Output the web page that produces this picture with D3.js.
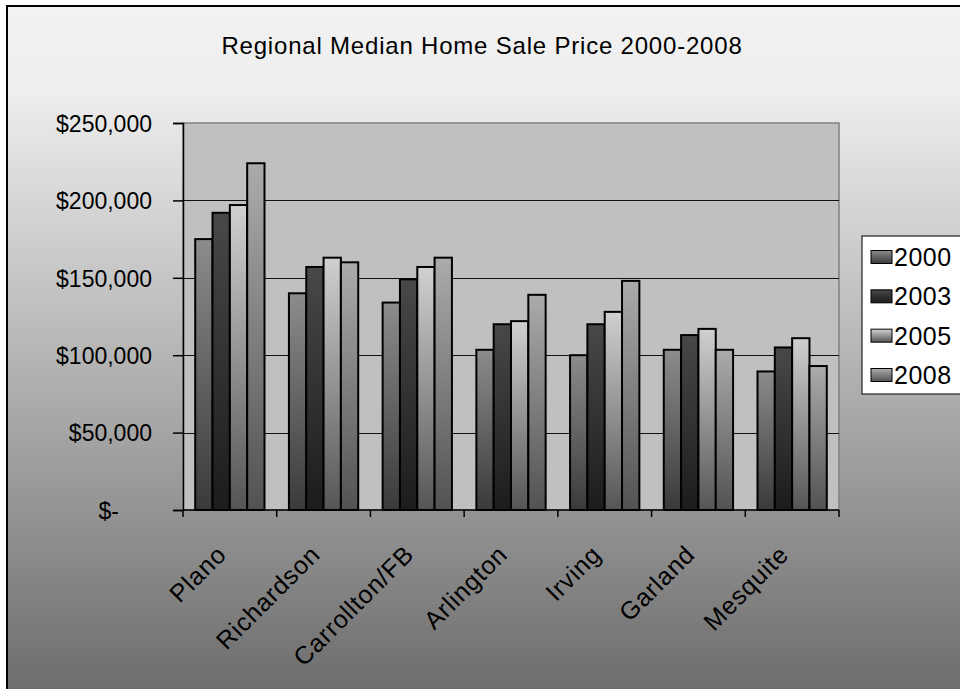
<!DOCTYPE html>
<html>
<head>
<meta charset="utf-8">
<script src="https://cdn.jsdelivr.net/npm/d3@7/dist/d3.min.js"></script>
<style>
  html, body { margin: 0; padding: 0; background: #ffffff; }
  svg { display: block; }
  text { font-family: "Liberation Sans", Arial, sans-serif; fill: #000; }
</style>
</head>
<body>
<svg id="chart" width="960" height="689"></svg>
<script>
// ---- data ----
const title = "Regional Median Home Sale Price 2000-2008";
const categories = ["Plano", "Richardson", "Carrollton/FB", "Arlington", "Irving", "Garland", "Mesquite"];
const seriesNames = ["2000", "2003", "2005", "2008"];
const values2000 = [175000, 140000, 134000, 103500, 100000, 103500, 89500];
const values2003 = [192000, 157000, 149000, 120000, 120000, 113000, 105000];
const values2005 = [197000, 163000, 157000, 122000, 128000, 117000, 111000];
const values2008 = [224000, 160000, 163000, 139000, 148000, 103500, 93000];
const seriesValues = [values2000, values2003, values2005, values2008];
const yTicks = [0, 50000, 100000, 150000, 200000, 250000];
const yTickLabels = ["$-", "$50,000", "$100,000", "$150,000", "$200,000", "$250,000"];

// ---- layout ----
const W = 960, H = 689;
const plot = { left: 183, top: 123, right: 839, bottom: 510 };
const seriesGrad = [
  { top: "#8c8c8c", bottom: "#3a3a3a" },
  { top: "#484848", bottom: "#1c1c1c" },
  { top: "#d0d0d0", bottom: "#555555" },
  { top: "#ababab", bottom: "#525252" }
];

const svg = d3.select("#chart");
const defs = svg.append("defs");

const bg = defs.append("linearGradient").attr("id", "bgGrad")
  .attr("x1", 0).attr("y1", 0).attr("x2", 0).attr("y2", 1);
bg.append("stop").attr("offset", "0").attr("stop-color", "#f2f2f2");
bg.append("stop").attr("offset", "0.12").attr("stop-color", "#eeeeee");
bg.append("stop").attr("offset", "1").attr("stop-color", "#6a6a6a");

seriesGrad.forEach((g, i) => {
  const lg = defs.append("linearGradient").attr("id", "sg" + i)
    .attr("x1", 0).attr("y1", 0).attr("x2", 0).attr("y2", 1);
  lg.append("stop").attr("offset", "0").attr("stop-color", g.top);
  lg.append("stop").attr("offset", "1").attr("stop-color", g.bottom);
});

// chart area background
svg.append("rect").attr("x", 7).attr("y", 6).attr("width", W + 10).attr("height", H + 10)
  .attr("fill", "url(#bgGrad)").attr("stroke", "#000").attr("stroke-width", 2);

// title
svg.append("text").attr("x", 482).attr("y", 54).attr("text-anchor", "middle")
  .style("font-size", "24px").style("letter-spacing", "0.8px").text(title);

// scales
const y = d3.scaleLinear().domain([0, 250000]).range([plot.bottom, plot.top]);
const x0 = d3.scaleBand().domain(categories).range([plot.left, plot.right]).paddingInner(0).paddingOuter(0);
const step = x0.bandwidth();
const gapRatio = 1.41;
const barW = step / (seriesNames.length + gapRatio);
const x1 = d3.scaleBand().domain(seriesNames)
  .range([barW * gapRatio / 2, barW * gapRatio / 2 + barW * seriesNames.length]);

// plot area
svg.append("rect").attr("x", plot.left).attr("y", plot.top)
  .attr("width", plot.right - plot.left).attr("height", plot.bottom - plot.top)
  .attr("fill", "#c0c0c0").attr("stroke", "#808080").attr("stroke-width", 1.5);

// gridlines
svg.append("g").selectAll("line").data(yTicks.filter(t => t > 0 && t < 250000)).join("line")
  .attr("x1", plot.left).attr("x2", plot.right)
  .attr("y1", d => Math.round(y(d)) + 0.5).attr("y2", d => Math.round(y(d)) + 0.5)
  .attr("stroke", "#111").attr("stroke-width", 1);

// bars
const groups = svg.append("g").selectAll("g").data(categories).join("g")
  .attr("transform", d => `translate(${x0(d)},0)`);
groups.selectAll("rect").data((d, ci) => seriesNames.map((s, si) => ({ s, si, v: seriesValues[si][ci] })))
  .join("rect")
  .attr("x", d => x1(d.s)).attr("width", x1.bandwidth())
  .attr("y", d => y(d.v)).attr("height", d => y(0) - y(d.v))
  .attr("fill", d => `url(#sg${d.si})`).attr("stroke", "#000").attr("stroke-width", 2);

// y axis
const yAxis = d3.axisLeft(y).tickValues(yTicks).tickSize(10).tickFormat((d, i) => yTickLabels[i]);
const gy = svg.append("g").attr("transform", `translate(${plot.left},0)`).call(yAxis);
gy.select(".domain").attr("stroke", "#000").attr("stroke-width", 1.5);
gy.selectAll(".tick line").attr("stroke", "#000").attr("stroke-width", 1.5);
gy.selectAll(".tick text").attr("x", -31).attr("dy", "0.36em")
  .style("font-size", "23px").style("font-family", "Liberation Sans, Arial, sans-serif").attr("fill", "#000");
gy.selectAll(".tick text").filter(d => d === 0).attr("x", -64);

// x axis
const gx = svg.append("g").attr("transform", `translate(0,${plot.bottom})`);
gx.append("line").attr("x1", plot.left).attr("x2", plot.right).attr("y1", 0).attr("y2", 0)
  .attr("stroke", "#000").attr("stroke-width", 1.5);
const boundaries = categories.map(c => x0(c)).concat([plot.right]);
gx.selectAll("line.tk").data(boundaries).join("line").attr("class", "tk")
  .attr("x1", d => d).attr("x2", d => d).attr("y1", 0).attr("y2", 7)
  .attr("stroke", "#000").attr("stroke-width", 1.5);
gx.selectAll("text").data(categories).join("text")
  .attr("transform", d => `translate(${x0(d) + step / 2 - 2},46) rotate(-45)`)
  .attr("text-anchor", "end")
  .style("font-size", "25px").style("letter-spacing", "0.8px").text(d => d);

// legend
const lg = svg.append("g");
lg.append("rect").attr("x", 862).attr("y", 236).attr("width", 120).attr("height", 158)
  .attr("fill", "#fff").attr("stroke", "#222").attr("stroke-width", 1.2);
const rowY = d3.scalePoint().domain(seriesNames).range([257, 375]);
const items = lg.selectAll("g").data(seriesNames).join("g")
  .attr("transform", d => `translate(0,${rowY(d)})`);
items.append("rect").attr("x", 871).attr("y", -6.5).attr("width", 21).attr("height", 13)
  .attr("fill", (d, i) => `url(#sg${i})`).attr("stroke", "#000").attr("stroke-width", 1);
items.append("text").attr("x", 894).attr("y", 0).attr("dy", "0.36em")
  .style("font-size", "25px").style("letter-spacing", "0.5px").text(d => d);
</script>
</body>
</html>
